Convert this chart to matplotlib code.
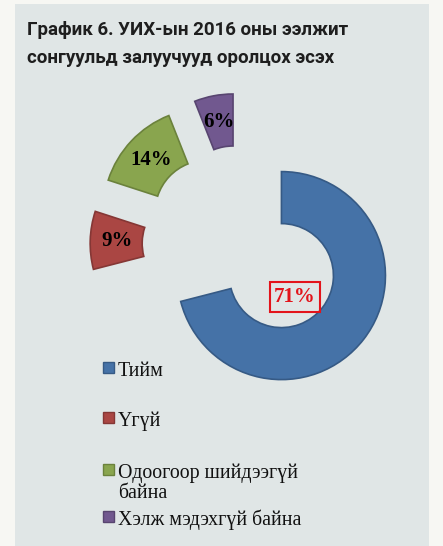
import numpy as np
import matplotlib.pyplot as plt
from matplotlib.patches import Rectangle

# data
labels = ["Тийм", "Үгүй", "Одоогоор шийдээгүй\nбайна", "Хэлж мэдэхгүй байна"]
values = [71, 9, 14, 6]
colors = ["#4572a7", "#aa4643", "#89a54e", "#71588f"]
edges = ["#365a85", "#853735", "#6b823c", "#584570"]
title_lines = ["График 6. УИХ-ын 2016 оны ээлжит", "сонгуульд залуучууд оролцох эсэх"]

W, H = 443, 546
fig = plt.figure(figsize=(W / 100, H / 100), dpi=100, facecolor="#f7f7f3")
fig.patches.append(Rectangle((15 / W, 0), (429 - 15) / W, (H - 4) / H,
                             transform=fig.transFigure, facecolor="#e0e6e6",
                             edgecolor="none", zorder=-5))

# title
for i, line in enumerate(title_lines):
    fig.text(27 / W, 1 - (35 + 28 * i) / H, line, fontsize=13.5, fontweight="bold",
             family="Roboto", color="#1e1e1e", va="baseline")

# pie: real centre at (242, 245) px from top-left, radius 104 px
R, cx, cy = 104, 242, 245
ax = fig.add_axes([0, 0, 1, 1])
ax.set_zorder(2)
wedges, texts, autotexts = ax.pie(
    values, colors=colors, startangle=90, counterclock=False,
    explode=[0.48, 0.46, 0.46, 0.46], radius=1, pctdistance=0.74,
    autopct=lambda p: f"{p:.0f}%",
    wedgeprops=dict(width=0.5, linewidth=1.2),
    textprops=dict(family="Liberation Serif", fontweight="bold", fontsize=15))
for w, ec in zip(wedges, edges):
    w.set_edgecolor(ec)

# the big slice label sits inside the hole, boxed in red
autotexts[0].set_position((0.51, -0.5))
autotexts[0].set_color("#e3141b")
autotexts[0].set_bbox(dict(boxstyle="square,pad=0.22", facecolor="none",
                           edgecolor="#e3141b", linewidth=1.5))

ax.set_xlim(-cx / R, (W - cx) / R)
ax.set_ylim(-(H - cy) / R, cy / R)
ax.set_aspect("auto")
ax.axis("off")

# legend drawn by hand
baselines = [376, 426, 478, 525]
for lab, col, ec, yb in zip(labels, colors, edges, baselines):
    fig.patches.append(Rectangle((103 / W, 1 - (yb - 3) / H), 11 / W, 11 / H,
                                 transform=fig.transFigure, facecolor=col,
                                 edgecolor=ec, linewidth=1, zorder=3))
    for j, part in enumerate(lab.split("\n")):
        fig.text(118 / W, 1 - (yb + 20 * j) / H, part, fontsize=14.3,
                 family="Liberation Serif", color="#111111", va="baseline")

fig.savefig("out.png", dpi=100, facecolor=fig.get_facecolor())
